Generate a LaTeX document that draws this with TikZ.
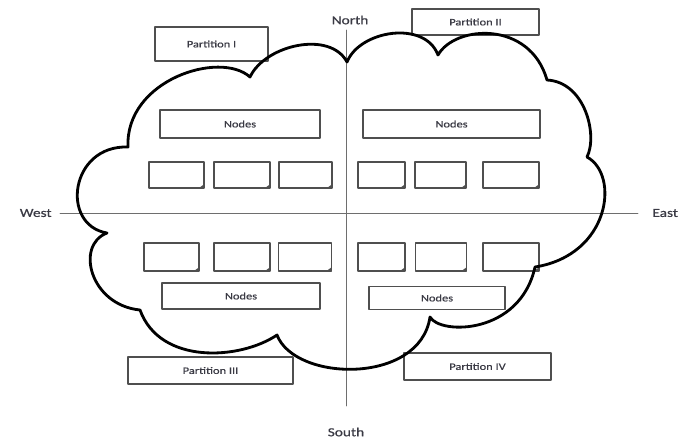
\documentclass[tikz,border=0pt]{standalone}
\usepackage{fontspec}
\setmainfont{Carlito}[FakeStretch=1.25,FakeBold=0.6]
\usepackage{xcolor}
\usepackage{tikz}
\definecolor{clInk}{HTML}{3A3A44}
\definecolor{clFrame}{HTML}{4F4F4F}
\definecolor{clAxis}{HTML}{6E6E6E}
\tikzset{
  cl diagram/.style={text=clInk, line cap=round, line join=round},
  cl box/.style={draw=clFrame, line width=0.9pt, inner sep=0pt,
    font=\fontsize{8.5}{10}\selectfont},
  cl cell/.style={cl box, path picture={
    \fill[clFrame] ([xshift=-1.5mm]path picture bounding box.south east)
      -- (path picture bounding box.south east)
      -- ([yshift=1.1mm]path picture bounding box.south east) -- cycle;}},
  cl axis/.style={draw=clAxis, line width=0.8pt},
  cl label/.style={font=\fontsize{10.5}{12}\selectfont, inner sep=1pt},
  cl cloud/.style={draw=black, line width=2.4pt}
}

\begin{document}
\begin{tikzpicture}[cl diagram,x=0.03cm,y=-0.03cm]
\useasboundingbox (0,0) rectangle (679,439);
\node[cl label] (north) at (350,20) {North};
\node[cl label] (south) at (346,432) {South};
\node[cl label,anchor=east] (west) at (53,213) {West};
\node[cl label,anchor=west] (east) at (651,213) {East};
\coordinate (axN) at (346,30);
\coordinate (axS) at (346,406);
\coordinate (axW) at (60,213);
\coordinate (axE) at (638,213);
\draw[cl axis] (axN) -- (axS);
\draw[cl axis] (axW) -- (axE);
\node[cl box,minimum width=33.9mm,minimum height=10.2mm] (part1) at (211.5,44) {Partition I};
\node[cl box,minimum width=38.1mm,minimum height=7.8mm] (part2) at (475.5,22) {Partition II};
\node[cl box,minimum width=49.5mm,minimum height=8.1mm] (part3) at (210.5,370.5) {Partition III};
\node[cl box,minimum width=44.1mm,minimum height=8.1mm] (part4) at (477.5,366.5) {Partition IV};
\node[cl box,minimum width=48mm,minimum height=8.4mm] (nodes1) at (240,124) {Nodes};
\node[cl box,minimum width=53.1mm,minimum height=8.4mm] (nodes2) at (451.5,124) {Nodes};
\node[cl box,minimum width=47.4mm,minimum height=7.8mm] (nodes3) at (241,296) {Nodes};
\node[cl box,minimum width=40.8mm,minimum height=6.9mm] (nodes4) at (437,298) {Nodes};
\foreach \ux/\lx/\w [count=\i] in {176.5/171.5/16.5,242/242/16.8,305.5/305/15.9,
    381.5/381.5/14.1,440.5/441/15.3,511/511/16.8}{
  \node[cl cell,minimum width=\w mm,minimum height=7.8mm] (up\i) at (\ux,175) {};
  \node[cl cell,minimum width=\w mm,minimum height=8.4mm] (lo\i) at (\lx,257) {};
}
\draw[cl cloud] (128,147) .. controls (125,80) and (220,50) .. (250,77)
  .. controls (265,45) and (330,30) .. (347,62)
  .. controls (360,30) and (425,20) .. (438,55)
  .. controls (455,25) and (530,20) .. (547,80)
  .. controls (585,82) and (598,135) .. (587,157)
  .. controls (620,175) and (610,255) .. (535,267)
  .. controls (520,335) and (440,335) .. (430,317)
  .. controls (420,385) and (295,382) .. (277,335)
  .. controls (240,360) and (160,365) .. (140,310)
  .. controls (90,305) and (75,245) .. (107,233)
  .. controls (60,225) and (70,145) .. (128,147) -- cycle;
\end{tikzpicture}
\end{document}
